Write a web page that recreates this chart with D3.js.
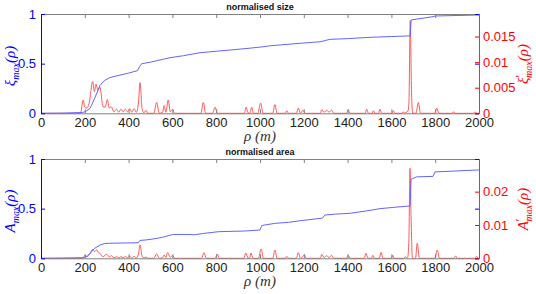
<!DOCTYPE html>
<html>
<head>
<meta charset="utf-8">
<script src="https://cdn.jsdelivr.net/npm/d3@7"></script>
<style>
  body { margin: 0; background: #fff; }
  svg text { font-family: "Liberation Sans", Arial, sans-serif; }
  .math { font-family: "Liberation Serif", "DejaVu Serif", serif; font-style: italic; }
</style>
</head>
<body>
<div id="chart"></div>
<script>
// values (rho in m)
const xTicks = [0, 200, 400, 600, 800, 1000, 1200, 1400, 1600, 1800, 2000];
const leftTicks = [0, 0.5, 1];
const sizeRightTicks = [0, 0.005, 0.01, 0.015];
const areaRightTicks = [0, 0.01, 0.02];
const sizeRightMax = 0.0194;
const areaRightMax = 0.0298;

// normalised size, cumulative
const sizeMax = [[0,0],[100,0.002],[190,0.008],[205,0.02],[224,0.05],[245,0.15],[269,0.28],[290,0.33],[315,0.36],
  [361,0.385],[400,0.405],[441,0.43],[450,0.47],[460,0.5],[500,0.515],[528,0.53],[560,0.545],[589,0.56],
  [650,0.58],[726,0.61],[800,0.625],[877,0.64],[950,0.655],[1014,0.67],[1046,0.68],[1100,0.69],[1183,0.705],
  [1274,0.72],[1320,0.745],[1400,0.752],[1502,0.765],[1600,0.773],[1686,0.78],[1690,0.94],[1750,0.96],
  [1790,0.973],[1800,0.98],[1900,0.985],[2000,0.99]];

// derivative of normalised size
const sizeDeriv = [[0,0],[180,0],[193,0.0026],[200,0.0012],[208,0.001],[220,0.002],[236,0.0062],[244,0.0042],
  [251,0.0057],[260,0.0045],[269,0.0051],[283,0.0013],[293,0.0012],[303,0.0027],[312,0.001],[320,0.0013],
  [333,0.0003],[345,0.0008],[355,0.0002],[365,0.0008],[375,0.0003],[385,0.0008],[395,0.0003],[405,0.0009],
  [415,0.0002],[425,0.0009],[435,0.0002],[445,0.002],[452,0.006],[462,0.0008],[470,0.0001],[479,0.0006],
  [488,0],[515,0],[528,0.0021],[540,0],[555,0.0002],[562,0.0015],[570,0.0002],[581,0.0026],[590,0.0003],
  [601,0.0008],[610,0],[730,0],[741,0.0021],[752,0],[783,0],[795,0.0012],[805,0],[928,0],[937,0.0012],
  [945,0.0001],[954,0],[962,0.0012],[970,0],[990,0],[1003,0.002],[1014,0],[1058,0],[1068,0.0017],[1078,0],
  [1115,0],[1122,0.0005],[1130,0],[1166,0],[1175,0.001],[1185,0],[1197,0.0006],[1205,0],[1275,0],
  [1282,0.0007],[1292,0.0002],[1305,0.0006],[1315,0.0002],[1327,0.0006],[1337,0],[1395,0],[1403,0.0007],
  [1411,0],[1480,0],[1487,0.0008],[1495,0],[1512,0],[1518,0.0005],[1525,0],[1541,0],[1548,0.0008],[1556,0],
  [1602,0],[1609,0.0005],[1616,0],[1648,0],[1653,0.0003],[1660,0.0001],[1675,0.0004],[1680,0.002],
  [1686,0.0181],[1692,0.004],[1697,0],[1712,0],[1723,0.0021],[1733,0],[1797,0],[1807,0.001],[1817,0],
  [1876,0],[1883,0.0003],[1890,0],[1975,0],[1982,0.0003],[1990,0],[2000,0]];

// normalised area, cumulative
const areaMax = [[0,0],[100,0.002],[193,0.006],[210,0.02],[224,0.05],[245,0.1],[269,0.134],[290,0.148],
  [307,0.151],[444,0.157],[452,0.18],[480,0.185],[528,0.2],[560,0.215],[581,0.228],[604,0.24],[680,0.24],
  [700,0.237],[741,0.25],[810,0.268],[932,0.275],[1000,0.285],[1008,0.33],[1068,0.352],[1129,0.362],
  [1183,0.378],[1251,0.396],[1285,0.405],[1297,0.436],[1342,0.445],[1411,0.453],[1480,0.475],[1548,0.5],
  [1620,0.515],[1685,0.527],[1690,0.795],[1715,0.82],[1790,0.825],[1799,0.87],[1900,0.88],[2000,0.89]];

// derivative of normalised area
const areaDeriv = [[0,0],[190,0],[201,0.001],[210,0.0005],[222,0.0012],[236,0.0027],[245,0.002],[254,0.0025],
  [262,0.0018],[269,0.0015],[283,0.0005],[300,0.0012],[312,0.0004],[322,0.0008],[333,0.0001],[345,0.0005],
  [355,0.0001],[365,0.0005],[375,0.0002],[385,0.0005],[395,0.0002],[405,0.0006],[415,0.0001],[425,0.0006],
  [435,0.0001],[445,0.0013],[452,0.004],[462,0.0005],[470,0.0001],[479,0.0004],[488,0],[515,0],[528,0.0013],
  [540,0],[555,0.0002],[562,0.001],[570,0.0002],[578,0.0017],[590,0.0003],[601,0.0008],[610,0],[733,0],
  [744,0.0017],[755,0],[795,0],[805,0.0013],[815,0],[926,0],[935,0.0016],[945,0.0001],[952,0],[959,0.0016],
  [968,0],[993,0],[1005,0.0028],[1016,0],[1058,0],[1068,0.0025],[1078,0],[1115,0],[1122,0.0006],[1130,0],
  [1166,0],[1175,0.0017],[1185,0],[1203,0.001],[1211,0],[1275,0],[1282,0.0012],[1292,0.0002],[1305,0.0008],
  [1315,0.0002],[1327,0.0009],[1337,0],[1395,0],[1403,0.0009],[1411,0],[1476,0],[1484,0.0015],[1493,0],
  [1509,0],[1515,0.0009],[1522,0],[1545,0],[1553,0.0018],[1561,0],[1599,0],[1606,0.0009],[1613,0],[1657,0],
  [1664,0.0005],[1670,0.0001],[1675,0.0005],[1680,0.006],[1685,0.027],[1690,0.012],[1696,0],[1710,0],
  [1718,0.0045],[1728,0],[1798,0],[1809,0.0025],[1820,0],[1886,0],[1893,0.0007],[1900,0],[1982,0],
  [1989,0.0006],[1996,0],[2000,0]];

const W = 536, H = 294;
const blue = "#0000ff", red = "#ff0000";
const lineBlue = "#6464ff", lineRed = "#ff5a5a";
const svg = d3.select("#chart").append("svg").attr("width", W).attr("height", H);

const x = d3.scaleLinear().domain([0, 2000]).range([41, 479]);

function panel(top, title, leftData, rightData, rightMax, rightTicks, leftName, rightName) {
  const bottom = top + 99.3;
  const yL = d3.scaleLinear().domain([0, 1]).range([bottom, top]);
  const yR = d3.scaleLinear().domain([0, rightMax]).range([bottom, top]);
  const g = svg.append("g");

  // red derivative drawn first, blue cumulative on top
  g.append("path").datum(rightData)
    .attr("fill", "none").attr("stroke", lineRed).attr("stroke-width", 1)
    .attr("d", d3.line().x(d => x(d[0])).y(d => yR(d[1])).curve(d3.curveMonotoneX));
  g.append("path").datum(leftData)
    .attr("fill", "none").attr("stroke", lineBlue).attr("stroke-width", 1)
    .attr("d", d3.line().x(d => x(d[0])).y(d => yL(d[1])));

  // x axes bottom & top, ticks inward
  const xb = g.append("g").attr("transform", `translate(0,${bottom})`)
    .call(d3.axisBottom(x).tickValues(xTicks).tickSizeInner(-4).tickSizeOuter(0).tickPadding(4).tickFormat(d3.format("d")));
  xb.select(".domain").attr("stroke", "#808080");
  xb.selectAll(".tick line").attr("stroke", "#808080");
  xb.selectAll("text").attr("font-size", 13).attr("fill", "#222").attr("font-family", "Liberation Sans, Arial, sans-serif");
  const xt = g.append("g").attr("transform", `translate(0,${top})`)
    .call(d3.axisTop(x).tickValues(xTicks).tickSizeInner(-4).tickSizeOuter(0).tickFormat(""));
  xt.select(".domain").attr("stroke", "#808080");
  xt.selectAll(".tick line").attr("stroke", "#808080");

  // left axis
  const yl = g.append("g").attr("transform", "translate(41,0)")
    .call(d3.axisLeft(yL).tickValues(leftTicks).tickSizeInner(-4).tickSizeOuter(0).tickPadding(5).tickFormat(d3.format("")));
  yl.select(".domain").attr("stroke", blue);
  yl.selectAll(".tick line").attr("stroke", blue);
  yl.selectAll("text").attr("font-size", 13).attr("fill", blue).attr("font-family", "Liberation Sans, Arial, sans-serif");
  // left ticks mirrored on right side
  g.append("g").attr("transform", "translate(479,0)")
    .call(d3.axisRight(yL).tickValues(leftTicks).tickSizeInner(-4).tickSizeOuter(0).tickFormat(""))
    .call(a => a.select(".domain").remove())
    .selectAll(".tick line").attr("stroke", blue);

  // right axis
  const yr = g.append("g").attr("transform", "translate(479,0)")
    .call(d3.axisRight(yR).tickValues(rightTicks).tickSizeInner(-4).tickSizeOuter(0).tickPadding(4).tickFormat(d3.format("")));
  yr.select(".domain").attr("stroke", "#d8306a");
  yr.selectAll(".tick line").attr("stroke", red);
  yr.selectAll("text").attr("font-size", 13).attr("fill", red).attr("font-family", "Liberation Sans, Arial, sans-serif");

  // title
  g.append("text").attr("x", 260).attr("y", top - 4).attr("text-anchor", "middle")
    .attr("font-size", 9).attr("font-weight", "bold").attr("fill", "#111").text(title);

  // x label
  g.append("text").attr("class", "math").attr("x", 260).attr("y", bottom + 28)
    .attr("text-anchor", "middle").attr("font-size", 15).attr("fill", "#333").text("ρ (m)");

  // y labels
  function yLabel(cx, cy, name, prime, color) {
    const t = g.append("text").attr("class", "math").attr("font-size", 15).attr("fill", color)
      .attr("text-anchor", "middle").attr("transform", `translate(${cx},${cy}) rotate(-90)`);
    t.append("tspan").text(name);
    if (prime) t.append("tspan").attr("font-style", "normal").attr("dy", -4).attr("font-size", 12).text("′");
    t.append("tspan").attr("font-size", 10).attr("dy", prime ? 8 : 4).attr("dx", prime ? -3 : 0).text("max");
    t.append("tspan").attr("dy", -4).text("(ρ)");
  }
  yLabel(15, top + 52, leftName, false, blue);
  yLabel(528, top + 50, rightName, true, red);
}

panel(14, "normalised size", sizeMax, sizeDeriv, sizeRightMax, sizeRightTicks, "ξ", "ξ");
panel(159, "normalised area", areaMax, areaDeriv, areaRightMax, areaRightTicks, "A", "A");
</script>
</body>
</html>
